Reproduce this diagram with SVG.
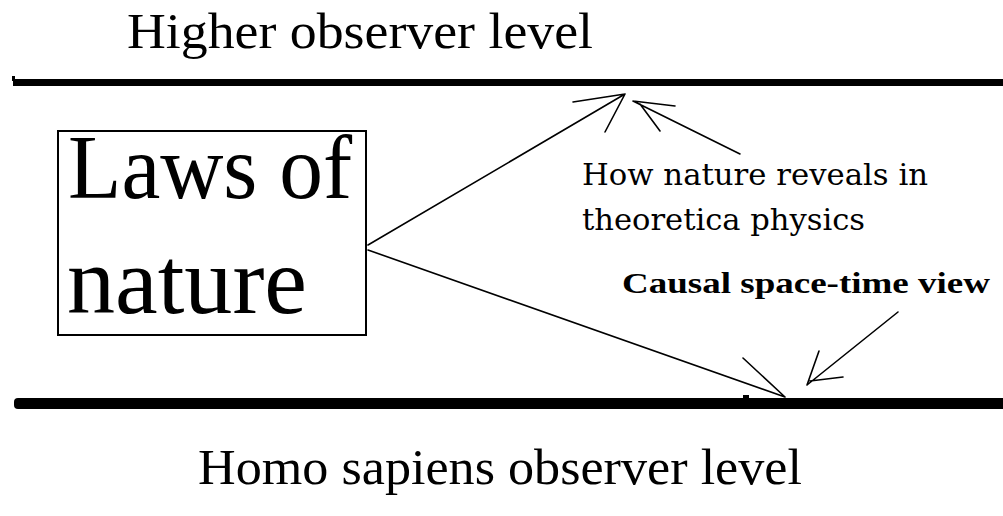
<svg xmlns="http://www.w3.org/2000/svg" width="1003" height="516" viewBox="0 0 1003 516">
  <style>
    .big { font-family: "Liberation Serif", serif; fill: #000; }
    .slab { font-family: "DejaVu Serif", serif; fill: #000; }
    .bold { font-family: "Liberation Serif", serif; font-weight: bold; fill: #000; }
    .ln { stroke: #000; stroke-width: 1.6; fill: none; stroke-linecap: round; }
  </style>
  <rect width="1003" height="516" fill="#fff"/>
  <g id="higher-level">
    <text class="big" x="127" y="48" font-size="50" textLength="466" lengthAdjust="spacingAndGlyphs">Higher observer level</text>
    <rect x="13" y="79" width="995" height="7" fill="#000"/>
    <rect x="12" y="76" width="3" height="5" fill="#000"/>
  </g>
  <g id="homo-level">
    <rect x="14" y="398" width="1000" height="11" rx="4" fill="#000"/>
    <rect x="743" y="395" width="6" height="3" fill="#000"/>
    <text class="big" x="198" y="484" font-size="50" textLength="604" lengthAdjust="spacingAndGlyphs">Homo sapiens observer level</text>
  </g>
  <g id="laws-of-nature">
    <rect x="58" y="131" width="308" height="204" fill="#fff" stroke="#000" stroke-width="2"/>
    <text class="big" x="68" y="198" font-size="90" textLength="284" lengthAdjust="spacingAndGlyphs">Laws of</text>
    <text class="big" x="67" y="313" font-size="96" textLength="240" lengthAdjust="spacingAndGlyphs">nature</text>
  </g>
  <g id="theoretical-label">
    <text class="slab" x="582" y="185" font-size="30" textLength="346" lengthAdjust="spacingAndGlyphs">How nature reveals in</text>
    <text class="slab" x="582" y="230" font-size="30" textLength="283" lengthAdjust="spacingAndGlyphs">theoretica physics</text>
  </g>
  <g id="causal-label">
    <text class="bold" x="622" y="293" font-size="29" textLength="368" lengthAdjust="spacingAndGlyphs">Causal space-time view</text>
  </g>
  <g id="connectors">
    <path class="ln" d="M368 245 L625 94 M573 102 L625 94 M605 132 L625 94"/>
    <path class="ln" d="M740 154 L633 101 M675 106 L633 101 M660 131 L640 104"/>
    <path class="ln" d="M368 250 L785 397 M743 358 L785 397"/>
    <path class="ln" d="M898 312 L807 385 M819 351 L807 385 M843 377 L810 381"/>
  </g>
</svg>
